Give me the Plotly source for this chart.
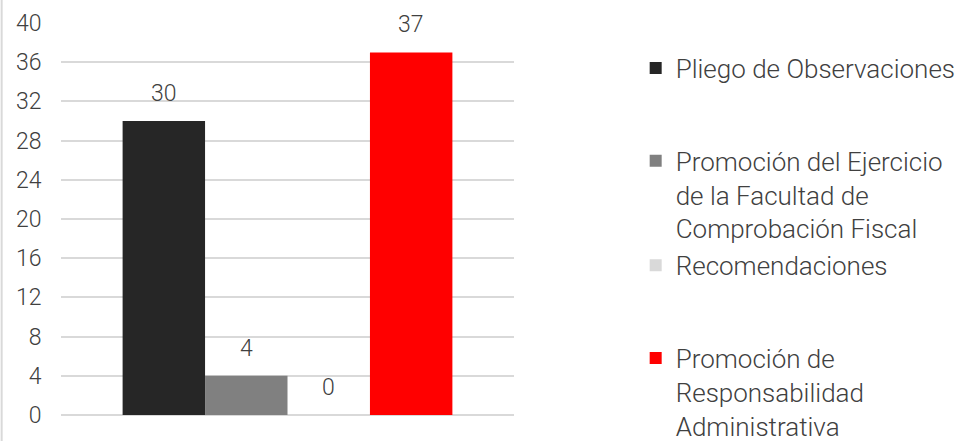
import plotly.graph_objects as go

category = [""]
series_names = [
    "Pliego de Observaciones",
    "Promoción del Ejercicio<br>de la Facultad de<br>Comprobación Fiscal",
    "Recomendaciones",
    "Promoción de<br>Responsabilidad<br>Administrativa",
]
series_values = [30, 4, 0, 37]
series_colors = ["#262626", "#808080", "#d9d9d9", "#ff0000"]
legend_groups = ["a", "b", "b", "c"]
y_ticks = [0, 4, 8, 12, 16, 20, 24, 28, 32, 36, 40]

FONT = "Roboto Light, Roboto"
TXT = "#404040"
BARGAP = 0.272

fig = go.Figure()
n = len(series_values)
for i, (name, val, col, grp) in enumerate(zip(series_names, series_values, series_colors, legend_groups)):
    fig.add_trace(go.Bar(
        x=category, y=[val], name=name, marker=dict(color=col, line=dict(width=0)),
        legendgroup=grp, hoverinfo="skip",
    ))
    w = (1 - BARGAP) / n
    fig.add_annotation(
        x=(i - (n - 1) / 2) * w, y=val, xref="x", yref="y",
        text=str(val), showarrow=False, yanchor="bottom", yshift=12,
        font=dict(family=FONT, size=23, color=TXT, weight=300),
    )

fig.update_layout(
    width=964, height=441,
    margin=dict(l=61, r=450, t=23, b=26, autoexpand=False),
    paper_bgcolor="white", plot_bgcolor="white",
    barmode="group", bargap=BARGAP, bargroupgap=0,
    font=dict(family=FONT, color=TXT, weight=300),
    showlegend=True,
    legend=dict(
        x=1.2686, xanchor="left", y=0.945, yanchor="top",
        font=dict(family=FONT, size=26, color=TXT, weight=300),
        valign="top", tracegroupgap=56, traceorder="grouped",
        bgcolor="rgba(0,0,0,0)", maxheight=800,
    ),
    xaxis=dict(showticklabels=False, showgrid=False, zeroline=False, showline=False, ticks=""),
    yaxis=dict(
        range=[0, 40], tickvals=y_ticks, showgrid=True, gridcolor="#d9d9d9", gridwidth=1.5,
        zeroline=True, zerolinecolor="#d9d9d9", zerolinewidth=1.5, showline=False,
        ticks="outside", ticklen=14, tickcolor="rgba(0,0,0,0)",
        tickfont=dict(family=FONT, size=23, color=TXT, weight=300),
    ),
    shapes=[dict(type="line", xref="paper", yref="paper", x0=-0.131, x1=-0.131,
                 y0=-26 / 392, y1=418 / 392, line=dict(color="#d9d9d9", width=2))],
)

fig.write_html(
    "out.html",
    config={"displayModeBar": False},
    post_script="document.body.style.margin='0';document.body.style.overflow='hidden';"
                "document.documentElement.style.overflow='hidden';",
)
